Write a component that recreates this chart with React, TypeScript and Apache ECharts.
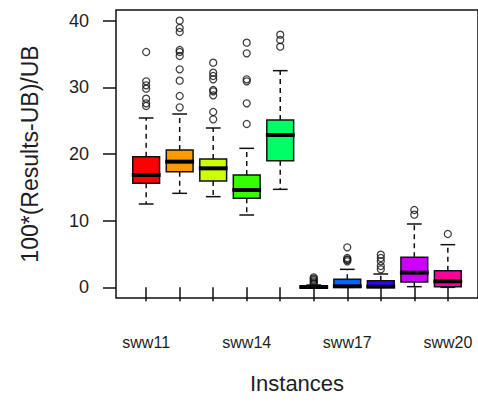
import React, { useEffect, useRef } from "react";
import * as echarts from "echarts";

// Instances on the x axis
const categories = ["sww11", "sww12", "sww13", "sww14", "sww15", "sww16", "sww17", "sww18", "sww19", "sww20"];
const labelledPositions = [1, 4, 7, 10];
const yTicks = [0, 10, 20, 30, 40];

// Box colours (R rainbow(10))
const boxColors = ["#FF0000", "#FF9900", "#CCFF00", "#33FF00", "#00FF66", "#00FFFF", "#0066FF", "#3300FF", "#CC00FF", "#FF0099"];

// Five-number summaries per instance
const lowerWhisker = [12.5, 14.1, 13.6, 10.85, 14.7, 0, 0, 0, 0.1, 0];
const lowerQuartile = [15.6, 17.35, 15.95, 13.35, 19.0, 0, 0, 0, 0.8, 0.1];
const medians = [16.85, 18.85, 17.85, 14.6, 22.85, 0.05, 0.15, 0.1, 2.2, 0.9];
const upperQuartile = [19.6, 20.6, 19.25, 16.85, 25.1, 0.15, 1.2, 1.0, 4.5, 2.5];
const upperWhisker = [25.4, 26.0, 23.9, 20.85, 32.5, 0.35, 2.7, 2.0, 9.5, 6.4];

// Points beyond the whiskers
const outliers: number[][] = [
  [35.3, 30.9, 30.3, 29.8, 28.3, 27.6, 27.2],
  [40.0, 38.9, 38.3, 35.6, 35.3, 34.7, 32.7, 31.0, 28.7, 27.0],
  [33.7, 32.2, 31.7, 31.2, 29.6, 29.4, 28.8, 26.3, 25.2],
  [36.7, 35.1, 31.2, 30.9, 27.6, 24.5],
  [37.9, 37.1, 36.1],
  [0.5, 0.7, 0.9, 1.1, 1.3, 1.5],
  [3.9, 4.1, 4.2, 4.4, 6.0],
  [2.7, 3.2, 3.9, 4.4, 4.9],
  [10.9, 11.6],
  [8.0],
];

const TEXT = "#1e1e1e";
const FONT = "Liberation Sans, Arial, sans-serif";

export default function App() {
  const ref = useRef<HTMLDivElement>(null);

  useEffect(() => {
    if (!ref.current) return;
    const chart = echarts.init(ref.current, null, { renderer: "svg" });

    const boxData = categories.map((_, i) => [
      i + 1,
      lowerWhisker[i],
      lowerQuartile[i],
      medians[i],
      upperQuartile[i],
      upperWhisker[i],
    ]);
    const outlierData: number[][] = [];
    outliers.forEach((vals, i) => vals.forEach((v) => outlierData.push([i + 1, v])));

    const renderBox = (params: any, api: any) => {
      const x = api.value(0);
      const pLo = api.coord([x, api.value(1)]);
      const pQ1 = api.coord([x, api.value(2)]);
      const pMed = api.coord([x, api.value(3)]);
      const pQ3 = api.coord([x, api.value(4)]);
      const pHi = api.coord([x, api.value(5)]);
      const cx = pMed[0];
      const halfW = api.size([0.4, 0])[0];
      const capW = api.size([0.22, 0])[0];
      const dash = { stroke: "#111", lineWidth: 1.5, lineDash: [5, 4] };
      const solid = { stroke: "#111", lineWidth: 1.5 };
      return {
        type: "group",
        children: [
          { type: "line", shape: { x1: cx, y1: pQ3[1], x2: cx, y2: pHi[1] }, style: dash },
          { type: "line", shape: { x1: cx, y1: pQ1[1], x2: cx, y2: pLo[1] }, style: dash },
          { type: "line", shape: { x1: cx - capW, y1: pHi[1], x2: cx + capW, y2: pHi[1] }, style: solid },
          { type: "line", shape: { x1: cx - capW, y1: pLo[1], x2: cx + capW, y2: pLo[1] }, style: solid },
          {
            type: "rect",
            shape: { x: cx - halfW, y: pQ3[1], width: 2 * halfW, height: pQ1[1] - pQ3[1] },
            style: { fill: boxColors[params.dataIndex], stroke: "#111", lineWidth: 1.5 },
          },
          {
            type: "line",
            shape: { x1: cx - halfW - 1, y1: pMed[1], x2: cx + halfW + 1, y2: pMed[1] },
            style: { stroke: "#000", lineWidth: 4 },
          },
        ],
      };
    };

    chart.setOption({
      animation: false,
      backgroundColor: "#ffffff",
      grid: {
        left: 116,
        right: -4.5,
        top: 10,
        bottom: 111,
        show: true,
        borderColor: "#111",
        borderWidth: 1.5,
        backgroundColor: "transparent",
      },
      xAxis: {
        type: "value",
        min: 0.1,
        max: 10.9,
        axisLine: { show: false },
        splitLine: { show: false },
        axisTick: {
          show: true,
          length: 14,
          customValues: categories.map((_, i) => i + 1),
          lineStyle: { color: "#111", width: 1.5 },
        },
        axisLabel: {
          customValues: labelledPositions,
          formatter: (v: number) => categories[Math.round(v) - 1],
          fontSize: 16,
          fontFamily: FONT,
          color: TEXT,
          margin: 36,
        },
      },
      yAxis: {
        type: "value",
        min: -1.6,
        max: 41.6,
        axisLine: { show: false },
        splitLine: { show: false },
        axisTick: {
          show: true,
          length: 13,
          customValues: yTicks,
          lineStyle: { color: "#111", width: 1.5 },
        },
        axisLabel: {
          customValues: yTicks,
          fontSize: 18,
          fontFamily: FONT,
          color: TEXT,
          margin: 27,
          padding: [5, 0, 0, 0],
        },
      },
      series: [
        {
          type: "custom",
          renderItem: renderBox,
          encode: { x: 0, y: [1, 2, 3, 4, 5] },
          data: boxData,
          z: 2,
        },
        {
          type: "scatter",
          data: outlierData,
          symbol: "circle",
          symbolSize: 7,
          itemStyle: { color: "rgba(255,255,255,0)", borderColor: "#111", borderWidth: 1.3 },
          z: 3,
        },
      ],
      graphic: [
        {
          type: "text",
          x: 297,
          y: 383,
          style: {
            text: "Instances",
            fontSize: 22,
            fontFamily: FONT,
            fill: TEXT,
            textAlign: "center",
            textVerticalAlign: "middle",
          },
        },
        {
          type: "text",
          x: 30,
          y: 154,
          rotation: Math.PI / 2,
          style: {
            text: "100*(Results-UB)/UB",
            fontSize: 23,
            fontFamily: FONT,
            fill: TEXT,
            textAlign: "center",
            textVerticalAlign: "middle",
          },
        },
      ],
    });

    return () => chart.dispose();
  }, []);

  return (
    <div
      ref={ref}
      style={{ position: "fixed", left: 0, top: 0, width: 478, height: 409, background: "#fff" }}
    />
  );
}
